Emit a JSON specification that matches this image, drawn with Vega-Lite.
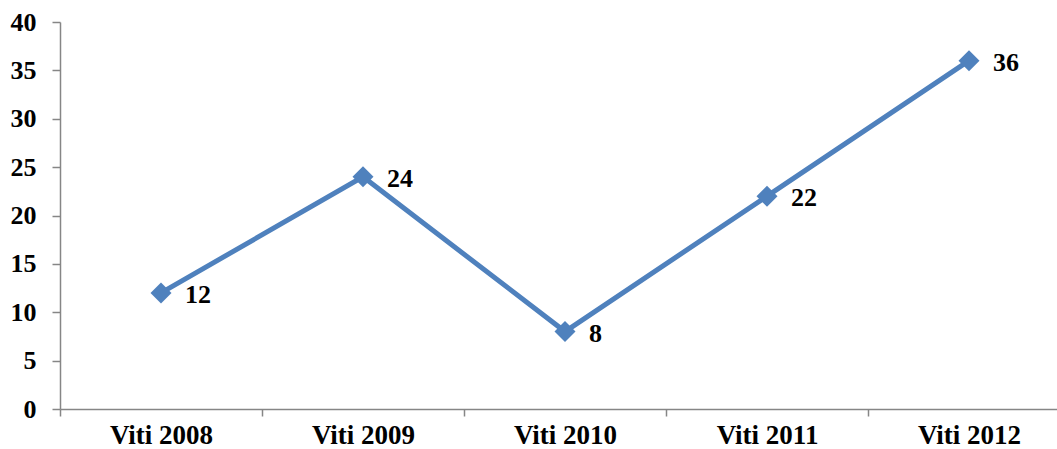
{
  "$schema": "https://vega.github.io/schema/vega-lite/v6.json",
  "autosize": {"type": "none"},
  "padding": {"left": 60, "top": 22, "right": 0, "bottom": 40},
  "width": 997,
  "height": 387,
  "background": "white",
  "config": {"view": {"stroke": null}},
  "data": {"values": [
    {"year": "Viti 2008", "value": 12},
    {"year": "Viti 2009", "value": 24},
    {"year": "Viti 2010", "value": 8},
    {"year": "Viti 2011", "value": 22},
    {"year": "Viti 2012", "value": 36}
  ]},
  "encoding": {
    "x": {"field": "year", "type": "nominal", "sort": null,
      "scale": {"type": "band", "paddingInner": 0, "paddingOuter": 0, "range": [0, 1010]},
      "axis": {"title": null, "labelAngle": 0, "tickBand": "extent", "domainColor": "#868686", "tickColor": "#868686", "domainWidth": 1.5, "tickWidth": 1.5, "tickSize": 7, "labelFont": "Liberation Serif", "labelFontWeight": "bold", "labelFontSize": 27, "labelColor": "black", "labelPadding": 6, "grid": false}},
    "y": {"field": "value", "type": "quantitative",
      "scale": {"domain": [0, 40], "nice": false},
      "axis": {"title": null, "values": [0, 5, 10, 15, 20, 25, 30, 35, 40], "grid": false, "domainColor": "#868686", "tickColor": "#868686", "domainWidth": 1.5, "tickWidth": 1.5, "tickSize": 8, "labelFont": "Liberation Serif", "labelFontWeight": "bold", "labelFontSize": 26, "labelColor": "black", "labelPadding": 16}}
  },
  "layer": [
    {"mark": {"type": "line", "color": "#4F81BD", "strokeWidth": 5}},
    {"mark": {"type": "point", "shape": "diamond", "filled": true, "size": 440, "color": "#4F81BD", "opacity": 1}},
    {"mark": {"type": "text", "align": "left", "baseline": "middle", "dx": 24, "dy": 2, "font": "Liberation Serif", "fontWeight": "bold", "fontSize": 26, "color": "black"},
     "encoding": {"text": {"field": "value", "type": "quantitative"}}}
  ]
}
